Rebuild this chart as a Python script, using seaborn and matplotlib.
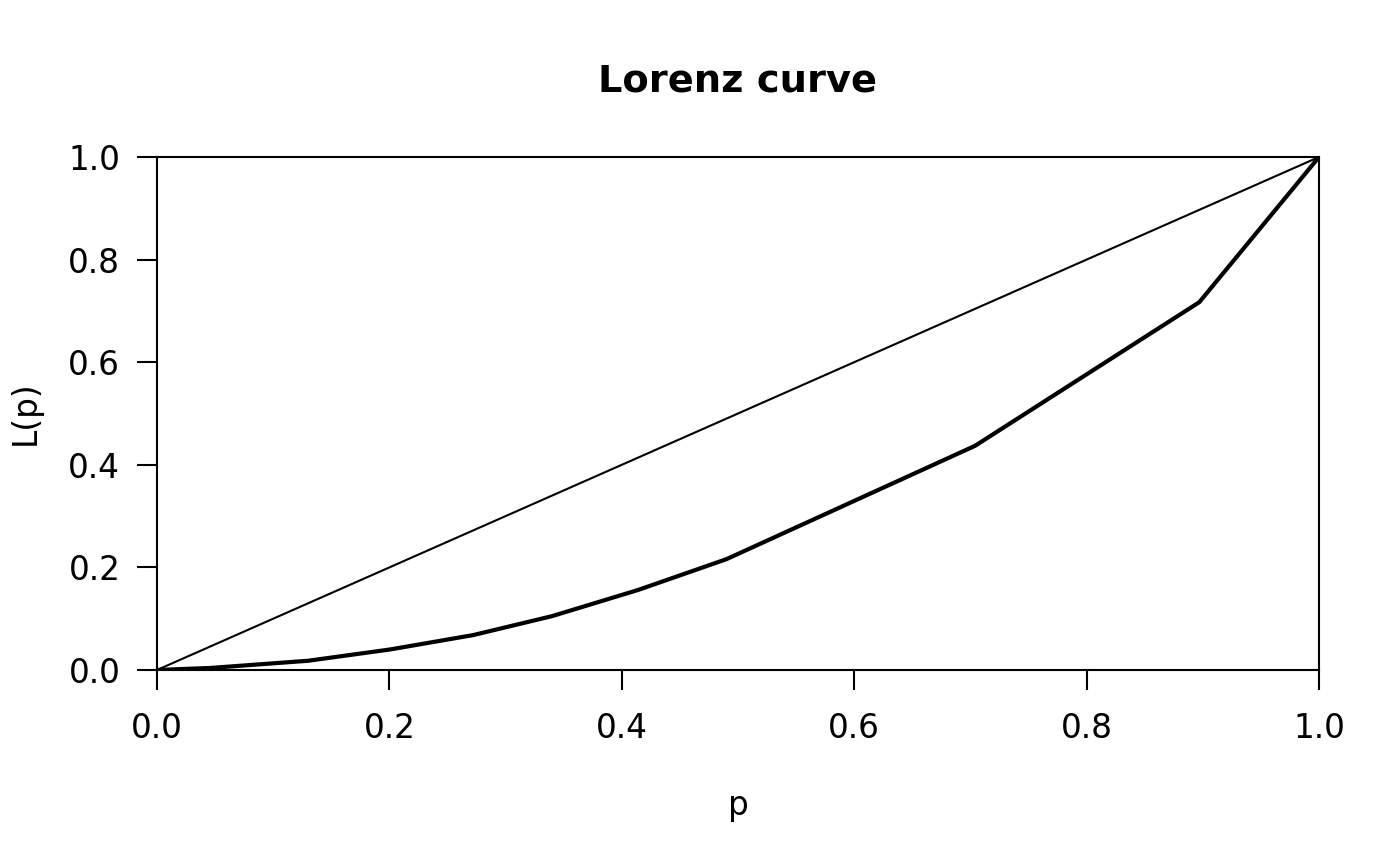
import numpy as np
import pandas as pd
import matplotlib
matplotlib.use('Agg')
import matplotlib.pyplot as plt
import seaborn as sns

# cumulative population share and income share
p = [0.0, 0.046, 0.130, 0.2005, 0.272, 0.340, 0.414, 0.490, 0.704, 0.897, 1.0]
L = [0.0, 0.004, 0.018, 0.040, 0.068, 0.105, 0.156, 0.216, 0.437, 0.717, 1.0]
equality = [0.0, 1.0]

ticks = [0.0, 0.2, 0.4, 0.6, 0.8, 1.0]

sns.set_theme(style='ticks')
plt.rcParams['font.family'] = ['DejaVu Sans']

df = pd.DataFrame({'p': p, 'L': L})

fig = plt.figure(figsize=(7, 4.33), dpi=200)
ax = fig.add_axes([157 / 1400, 1 - 670 / 866, (1319 - 157) / 1400, (670 - 157) / 866])

sns.lineplot(x=equality, y=equality, ax=ax, color='black', linewidth=0.75)
sns.lineplot(data=df, x='p', y='L', ax=ax, color='black', linewidth=1.5)

ax.set_xlim(0, 1)
ax.set_ylim(0, 1)
ax.set_xticks(ticks)
ax.set_yticks(ticks)
ax.set_xticklabels([f'{t:.1f}' for t in ticks])
ax.set_yticklabels([f'{t:.1f}' for t in ticks])
ax.tick_params(axis='both', direction='out', length=7.2, width=0.75, color='black',
               labelsize=11.8, labelcolor='black')
ax.tick_params(axis='x', pad=8)
ax.tick_params(axis='y', pad=6)
for s in ax.spines.values():
    s.set_visible(True)
    s.set_linewidth(0.75)
    s.set_color('black')
ax.set_xlabel('')
ax.set_ylabel('')
ax.grid(False)

fig.text((157 + 1319) / 2 / 1400, 1 - 81 / 866, 'Lorenz curve', ha='center', va='center',
         fontsize=13.8, fontweight='bold', color='black')
fig.text((157 + 1319) / 2 / 1400, 1 - 805 / 866, 'p', ha='center', va='center',
         fontsize=11.8, color='black')
fig.text(25 / 1400, 1 - 413 / 866, 'L(p)', ha='center', va='center', rotation=90,
         fontsize=11.8, color='black')

fig.savefig('out.png', dpi=200, facecolor='white')
